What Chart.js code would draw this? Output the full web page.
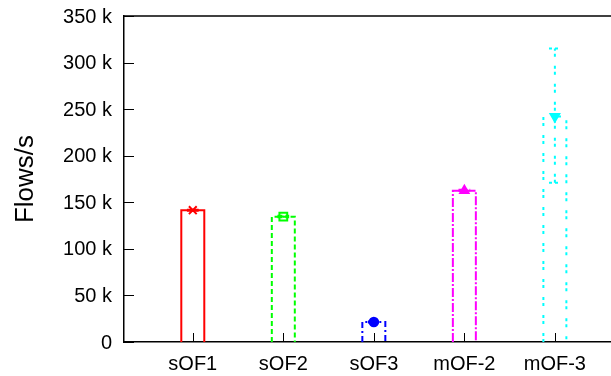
<!DOCTYPE html>
<html>
<head>
<meta charset="utf-8">
<script src="https://cdn.jsdelivr.net/npm/chart.js@4.4.1/dist/chart.umd.min.js"></script>
<style>
  html, body { margin: 0; padding: 0; background: #fff; overflow: hidden; }
  #wrap { width: 611px; height: 376px; position: relative; }
</style>
</head>
<body>
<div id="wrap"><canvas id="c"></canvas></div>
<script>
// Throughput per configuration, in thousands of flows per second
const categories = ['sOF1', 'sOF2', 'sOF3', 'mOF-2', 'mOF-3'];
const flowRate   = [141.5, 134.5, 21.5, 162.5, 242];
const flowLow    = [141, 134, 21, 162, 171];
const flowHigh   = [142, 135.5, 22, 163.5, 315];
const yTickValues = [0, 50, 100, 150, 200, 250, 300, 350];

// Per-series styling (gnuplot-like line types)
const colors  = ['#ff0000', '#00ff00', '#0000ff', '#ff00ff', '#00ffff'];
const dashes  = [[], [5, 3], [6, 3, 2, 3], [9, 2, 2, 2], [3, 3, 3, 9]];
const markers = ['crossRot', 'rect', 'circle', 'triangle', 'triangle'];
const markerRotation = [0, 0, 0, 0, 180];
const markerFilled   = [false, false, true, true, true];
const markerRadius   = [5.5, 5.5, 4.3, 4.8, 5];

const BOX_HALF = 0.127;  // half box width, in category units
const CAP_HALF = 0.065;  // half error-bar cap width

const datasets = [];

// Open boxes
categories.forEach((name, i) => {
  const v = flowRate[i];
  datasets.push({
    label: name + ' box',
    data: [
      { x: i - BOX_HALF, y: 0 }, { x: i - BOX_HALF, y: v },
      { x: i + BOX_HALF, y: v }, { x: i + BOX_HALF, y: 0 }
    ],
    borderColor: colors[i], borderDash: dashes[i], borderWidth: 2,
    pointRadius: 0, fill: false, tension: 0, spanGaps: false
  });
});

// Error bars with caps
categories.forEach((name, i) => {
  const lo = flowLow[i], hi = flowHigh[i];
  datasets.push({
    label: name + ' range',
    data: [
      { x: i - CAP_HALF, y: lo }, { x: i + CAP_HALF, y: lo }, { x: i, y: null },
      { x: i, y: lo }, { x: i, y: hi }, { x: i, y: null },
      { x: i - CAP_HALF, y: hi }, { x: i + CAP_HALF, y: hi }
    ],
    borderColor: colors[i], borderDash: dashes[i], borderWidth: 2,
    pointRadius: 0, fill: false, tension: 0, spanGaps: false
  });
});

// Point markers
categories.forEach((name, i) => {
  datasets.push({
    label: name,
    data: [{ x: i, y: flowRate[i] }],
    showLine: false,
    pointStyle: markers[i],
    rotation: markerRotation[i],
    pointRadius: markerRadius[i],
    pointBorderWidth: 2,
    pointBorderColor: colors[i],
    pointBackgroundColor: markerFilled[i] ? colors[i] : 'rgba(0,0,0,0)',
    borderColor: colors[i]
  });
});

// Top frame line and short tick marks pointing into the plot
const frameAndTicks = {
  id: 'frameAndTicks',
  afterDatasetsDraw(chart) {
    const { ctx, chartArea, scales: { x, y } } = chart;
    ctx.save();
    ctx.strokeStyle = '#000';
    ctx.lineWidth = 1.5;
    ctx.beginPath();
    ctx.moveTo(chartArea.left, Math.round(chartArea.top));
    ctx.lineTo(chartArea.right, Math.round(chartArea.top));
    ctx.stroke();
    ctx.lineWidth = 1;
    ctx.beginPath();
    y.ticks.forEach(t => {
      const py = Math.round(y.getPixelForValue(t.value)) + 0.5;
      ctx.moveTo(chartArea.left, py);
      ctx.lineTo(chartArea.left + 10, py);
    });
    x.ticks.forEach(t => {
      const px = Math.round(x.getPixelForValue(t.value)) + 0.5;
      ctx.moveTo(px, chartArea.bottom);
      ctx.lineTo(px, chartArea.bottom - 9);
    });
    ctx.stroke();
    ctx.restore();
  }
};

const FONT = "'Liberation Sans', Arial, Helvetica, sans-serif";
const noPad = s => { s.paddingTop = 0; s.paddingBottom = 0; s.paddingLeft = 0; s.paddingRight = 0; };

new Chart(document.getElementById('c'), {
  type: 'line',
  data: { datasets },
  plugins: [frameAndTicks],
  options: {
    responsive: true,
    maintainAspectRatio: false,
    animation: false,
    layout: { autoPadding: false, padding: { top: 16, left: 0, right: 0, bottom: 0 } },
    plugins: { legend: { display: false }, tooltip: { enabled: false } },
    scales: {
      x: {
        type: 'linear', position: 'bottom', min: -0.76, max: 4.62, z: 1,
        afterBuildTicks: s => { s.ticks = categories.map((_, i) => ({ value: i })); },
        afterFit: s => { s.height = 34; noPad(s); },
        ticks: {
          callback: v => categories[v],
          font: { family: FONT, size: 20 }, color: '#000', padding: 10,
          maxRotation: 0, autoSkip: false
        },
        grid: { display: false, drawTicks: false },
        border: { display: true, color: '#000', width: 1.5 }
      },
      y: {
        type: 'linear', min: 0, max: 350, z: 1,
        afterBuildTicks: s => { s.ticks = yTickValues.map(v => ({ value: v })); },
        afterFit: s => { s.width = 124; noPad(s); },
        ticks: {
          callback: v => (v === 0 ? '0' : v + ' k'),
          font: { family: FONT, size: 20 }, color: '#000', padding: 12, labelOffset: 1
        },
        grid: { display: false, drawTicks: false },
        border: { display: true, color: '#000', width: 1.5 },
        title: {
          display: true, text: 'Flows/s', color: '#000',
          font: { family: FONT, size: 26 }, padding: { top: 10, bottom: 0 }
        }
      }
    }
  }
});
</script>
</body>
</html>
